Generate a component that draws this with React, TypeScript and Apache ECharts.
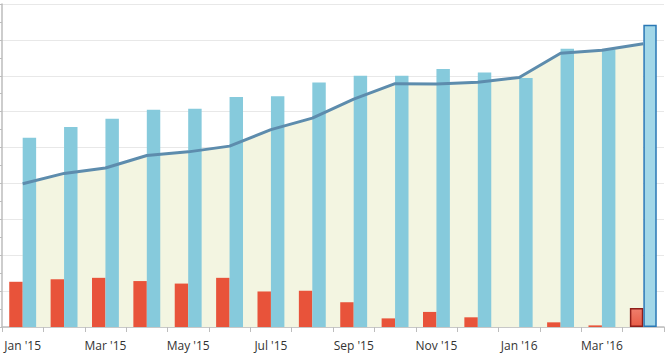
import React, { useEffect, useRef } from "react";
import * as echarts from "echarts";

const categories = [
  "Jan '15", "Feb '15", "Mar '15", "Apr '15", "May '15", "Jun '15", "Jul '15", "Aug '15",
  "Sep '15", "Oct '15", "Nov '15", "Dec '15", "Jan '16", "Feb '16", "Mar '16", "Apr '16",
];
const redValues = [12.6, 13.3, 13.7, 12.8, 12.1, 13.7, 9.9, 10.1, 6.9, 2.4, 4.2, 2.7, 0, 1.3, 0.45, 5.3];
const blueValues = [52.7, 55.7, 58.0, 60.5, 60.8, 64.1, 64.3, 68.1, 70.0, 70.0, 71.9, 70.9, 69.4, 77.5, 77.3, 84.2];
const lineValues = [39.9, 42.8, 44.3, 47.8, 48.8, 50.4, 55.0, 58.2, 63.5, 67.8, 67.7, 68.2, 69.5, 76.3, 77.1, 78.9];

const RED = "#e8533a";
const BLUE = "#86cadc";
const LINE = "#5d8cad";
const AREA = "#f3f5e1";

export default function App() {
  const ref = useRef<HTMLDivElement>(null);
  useEffect(() => {
    document.body.style.margin = "0";
    const chart = echarts.init(ref.current!, null, { renderer: "svg" });
    const last = categories.length - 1;
    const redData = redValues.map((v, i) =>
      i === last
        ? {
            value: v,
            itemStyle: {
              color: new echarts.graphic.LinearGradient(0, 0, 0, 1, [
                { offset: 0, color: "#ef7e6c" },
                { offset: 1, color: "#e85c46" },
              ]),
              borderColor: "#8e1f1a",
              borderWidth: 1.5,
            },
          }
        : v
    );
    const blueData = blueValues.map((v, i) =>
      i === last
        ? { value: v, itemStyle: { color: "#a2d7e8", borderColor: "#2a78b5", borderWidth: 1.5 } }
        : v
    );
    chart.setOption({
      animation: false,
      grid: { left: 2, right: 3, top: 4, bottom: 35, containLabel: false },
      xAxis: {
        type: "category",
        data: categories,
        boundaryGap: true,
        axisLine: { lineStyle: { color: "#bdbdbd", width: 1.5 } },
        axisTick: { show: true, length: 5, lineStyle: { color: "#bdbdbd" }, alignWithLabel: false, interval: 0 },
        axisLabel: {
          interval: 1,
          color: "#333",
          fontFamily: "Open Sans",
          fontSize: 12,
          margin: 12,
        },
        splitLine: { show: false },
      },
      yAxis: {
        type: "value",
        min: 0,
        max: 90,
        interval: 10,
        axisLine: { show: true, lineStyle: { color: "#bdbdbd", width: 1.5 } },
        axisTick: { show: true, length: 3, lineStyle: { color: "#bdbdbd" } },
        minorTick: { show: true, splitNumber: 2, length: 3, lineStyle: { color: "#bdbdbd" } },
        axisLabel: { show: false },
        splitLine: { show: true, lineStyle: { color: "#e8e8e8", width: 1 } },
      },
      series: [
        {
          type: "line",
          data: lineValues,
          showSymbol: false,
          symbol: "none",
          lineStyle: { width: 0, opacity: 0 },
          areaStyle: { color: AREA, opacity: 1 },
          z: 1,
          silent: true,
        },
        {
          type: "bar",
          data: redData,
          itemStyle: { color: RED },
          barGap: "0%",
          barCategoryGap: "35%",
          z: 2,
        },
        {
          type: "bar",
          data: blueData,
          itemStyle: { color: BLUE },
          barGap: "0%",
          barCategoryGap: "35%",
          z: 2,
        },
        {
          type: "line",
          data: lineValues,
          showSymbol: false,
          symbol: "none",
          lineStyle: { width: 3, color: LINE },
          z: 3,
        },
      ],
    });
    return () => chart.dispose();
  }, []);
  return <div ref={ref} style={{ width: 667, height: 362 }} />;
}
